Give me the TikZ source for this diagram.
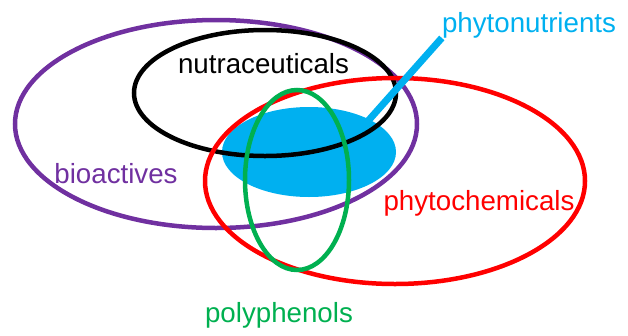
\documentclass[tikz,border=0pt]{standalone}
\usepackage{fontspec}
\setmainfont{Liberation Sans}
\definecolor{bioviolet}{HTML}{7030A0}
\definecolor{polygreen}{HTML}{00B050}
\definecolor{nutricyan}{HTML}{00B0F0}
\definecolor{chemred}{HTML}{FF0000}

\begin{document}
\begin{tikzpicture}[x=1pt,y=-1pt,
  ring/.style={line width=4.5pt},
  lbl/.style={inner sep=0pt,anchor=base,font=\fontsize{27.7}{30}\selectfont}]
\useasboundingbox (0,0) rectangle (628,335);
% phytonutrients blob (under the rings)
\fill[nutricyan] (309,152) ellipse [x radius=87pt,y radius=45pt];
\coordinate (blob) at (368,121);
% the four sets
\draw[ring,bioviolet] (216,124) ellipse [x radius=201pt,y radius=104pt];
\draw[ring,black] (265,93) ellipse [x radius=131pt,y radius=63pt];
\draw[ring,chemred] (395,181) ellipse [x radius=190pt,y radius=103pt];
\draw[ring,polygreen] (297,180) ellipse [x radius=52pt,y radius=90pt];
% labels
\node[lbl,black] (nutra) at (263.5,73) {nutraceuticals};
\node[lbl,bioviolet] (bioact) at (116,183) {bioactives};
\node[lbl,chemred] (phytochem) at (479,210) {phytochemicals};
\node[lbl,polygreen] (polyphen) at (279,322) {polyphenols};
\node[lbl,nutricyan] (phytonut) at (529,32) {phytonutrients};
% pointer to phytonutrients
\draw[nutricyan,line width=7pt] (blob) -- (phytonut.south west);
\end{tikzpicture}
\end{document}
